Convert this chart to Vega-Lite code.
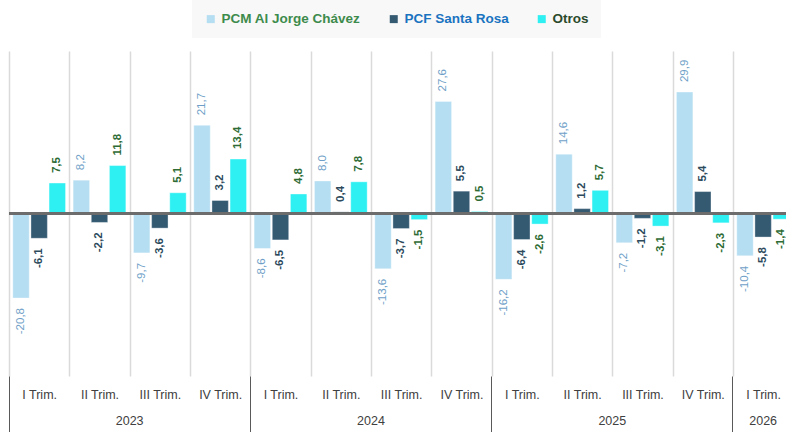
{
  "$schema": "https://vega.github.io/schema/vega-lite/v6.json",
  "autosize": {"type": "none"},
  "width": 777,
  "height": 325,
  "padding": {"left": 9, "top": 51, "right": 0, "bottom": 56},
  "background": "white",
  "config": {
    "locale": {"number": {"decimal": ",", "thousands": ".", "grouping": [3], "currency": ["", ""], "minus": "-"}},
    "view": {"stroke": null},
    "font": "Liberation Sans"
  },
  "data": {"values": [
    {"cat": "2023-I", "series": "PCM Al Jorge Chávez", "value": -20.8},
    {"cat": "2023-I", "series": "PCF Santa Rosa", "value": -6.1},
    {"cat": "2023-I", "series": "Otros", "value": 7.5},
    {"cat": "2023-II", "series": "PCM Al Jorge Chávez", "value": 8.2},
    {"cat": "2023-II", "series": "PCF Santa Rosa", "value": -2.2},
    {"cat": "2023-II", "series": "Otros", "value": 11.8},
    {"cat": "2023-III", "series": "PCM Al Jorge Chávez", "value": -9.7},
    {"cat": "2023-III", "series": "PCF Santa Rosa", "value": -3.6},
    {"cat": "2023-III", "series": "Otros", "value": 5.1},
    {"cat": "2023-IV", "series": "PCM Al Jorge Chávez", "value": 21.7},
    {"cat": "2023-IV", "series": "PCF Santa Rosa", "value": 3.2},
    {"cat": "2023-IV", "series": "Otros", "value": 13.4},
    {"cat": "2024-I", "series": "PCM Al Jorge Chávez", "value": -8.6},
    {"cat": "2024-I", "series": "PCF Santa Rosa", "value": -6.5},
    {"cat": "2024-I", "series": "Otros", "value": 4.8},
    {"cat": "2024-II", "series": "PCM Al Jorge Chávez", "value": 8.0},
    {"cat": "2024-II", "series": "PCF Santa Rosa", "value": 0.4},
    {"cat": "2024-II", "series": "Otros", "value": 7.8},
    {"cat": "2024-III", "series": "PCM Al Jorge Chávez", "value": -13.6},
    {"cat": "2024-III", "series": "PCF Santa Rosa", "value": -3.7},
    {"cat": "2024-III", "series": "Otros", "value": -1.5},
    {"cat": "2024-IV", "series": "PCM Al Jorge Chávez", "value": 27.6},
    {"cat": "2024-IV", "series": "PCF Santa Rosa", "value": 5.5},
    {"cat": "2024-IV", "series": "Otros", "value": 0.5},
    {"cat": "2025-I", "series": "PCM Al Jorge Chávez", "value": -16.2},
    {"cat": "2025-I", "series": "PCF Santa Rosa", "value": -6.4},
    {"cat": "2025-I", "series": "Otros", "value": -2.6},
    {"cat": "2025-II", "series": "PCM Al Jorge Chávez", "value": 14.6},
    {"cat": "2025-II", "series": "PCF Santa Rosa", "value": 1.2},
    {"cat": "2025-II", "series": "Otros", "value": 5.7},
    {"cat": "2025-III", "series": "PCM Al Jorge Chávez", "value": -7.2},
    {"cat": "2025-III", "series": "PCF Santa Rosa", "value": -1.2},
    {"cat": "2025-III", "series": "Otros", "value": -3.1},
    {"cat": "2025-IV", "series": "PCM Al Jorge Chávez", "value": 29.9},
    {"cat": "2025-IV", "series": "PCF Santa Rosa", "value": 5.4},
    {"cat": "2025-IV", "series": "Otros", "value": -2.3},
    {"cat": "2026-I", "series": "PCM Al Jorge Chávez", "value": -10.4},
    {"cat": "2026-I", "series": "PCF Santa Rosa", "value": -5.8},
    {"cat": "2026-I", "series": "Otros", "value": -1.4}
  ]},
  "resolve": {"axis": {"x": "independent"}, "scale": {"color": "independent"}},
  "layer": [
    {
      "mark": {"type": "bar", "stroke": "#ffffff", "strokeOpacity": 0.35, "strokeWidth": 1},
      "encoding": {
        "x": {"field": "cat", "type": "nominal",
          "scale": {"domain": ["2023-I","2023-II","2023-III","2023-IV","2024-I","2024-II","2024-III","2024-IV","2025-I","2025-II","2025-III","2025-IV","2026-I"], "range": [0, 784.3], "paddingInner": 0, "paddingOuter": 0},
          "axis": {"orient": "bottom", "title": null, "domain": false, "ticks": false, "tickBand": "extent", "grid": true, "gridColor": "#dadada", "gridWidth": 1.5, "labelExpr": "datum.value ? split(datum.value, '-')[1] + ' Trim.' : ''", "labelAngle": 0, "labelFont": "Liberation Sans", "labelFontSize": 12.5, "labelColor": "#404040", "labelPadding": 12}},
        "xOffset": {"field": "series", "type": "nominal", "scale": {"domain": ["PCM Al Jorge Chávez", "PCF Santa Rosa", "Otros"], "paddingInner": 0.094, "paddingOuter": 0.21}},
        "y": {"field": "value", "type": "quantitative", "scale": {"domain": [-40, 40], "nice": false},
          "axis": {"values": [-40, -20, 0, 20, 40], "labels": false, "ticks": false, "domain": false, "title": null, "grid": true, "gridColor": "#dadada", "gridWidth": 1.5}},
        "color": {"field": "series", "type": "nominal",
          "scale": {"domain": ["PCM Al Jorge Chávez", "PCF Santa Rosa", "Otros"], "range": ["#b5def2", "#345a72", "#2ef0f2"]},
          "legend": {"orient": "none", "legendX": 183, "legendY": -51, "direction": "horizontal", "title": null, "symbolType": "square", "symbolSize": 64, "symbolStrokeWidth": 0, "labelFont": "Liberation Sans", "labelFontWeight": "bold", "labelFontSize": 13.5, "labelColor": {"expr": "datum.label == 'Otros' ? '#2b4a2b' : datum.label == 'PCF Santa Rosa' ? '#1a73c0' : '#3d8b4c'"}, "columnPadding": 26, "padding": 12, "fillColor": "#f8f8f8", "labelOffset": 4}}
      }
    },
    {
      "mark": {"type": "rule", "color": "#6d6d6d", "strokeWidth": 2},
      "encoding": {"y": {"datum": 0, "type": "quantitative", "axis": null}}
    },
    {
      "transform": [{"filter": "datum.series == 'PCM Al Jorge Chávez' && datum.value >= 0"}],
      "mark": {"type": "text", "angle": 270, "align": "left", "baseline": "middle", "dx": 10, "font": "Liberation Sans", "fontSize": 11.5, "color": "#6f9fc8"},
      "encoding": {
        "x": {"field": "cat", "type": "nominal",
          "axis": {"orient": "bottom", "title": null, "domain": false, "grid": false, "values": ["2023-I","2024-I","2025-I","2026-I"], "bandPosition": 0, "ticks": true, "tickSize": 56, "tickColor": "#595959", "tickWidth": 1, "labelExpr": "datum.value ? split(datum.value, '-')[0] : ''", "labelOffset": {"condition": {"test": "datum.value == '2026-I'", "value": 0}, "value": 90.5}, "labelPadding": -18, "labelAngle": 0, "labelFont": "Liberation Sans", "labelFontSize": 12.5, "labelColor": "#404040"}},
        "xOffset": {"field": "series", "type": "nominal"},
        "y": {"field": "value", "type": "quantitative", "axis": null},
        "text": {"field": "value", "type": "quantitative", "format": ".1f"}
      }
    },
    {
      "transform": [{"filter": "datum.series == 'PCM Al Jorge Chávez' && datum.value < 0"}],
      "mark": {"type": "text", "angle": 270, "align": "right", "baseline": "middle", "dx": -10, "font": "Liberation Sans", "fontSize": 11.5, "color": "#6f9fc8"},
      "encoding": {
        "x": {"field": "cat", "type": "nominal", "axis": null},
        "xOffset": {"field": "series", "type": "nominal"},
        "y": {"field": "value", "type": "quantitative", "axis": null},
        "text": {"field": "value", "type": "quantitative", "format": ".1f"}
      }
    },
    {
      "transform": [{"filter": "datum.series != 'PCM Al Jorge Chávez' && datum.value >= 0"}],
      "mark": {"type": "text", "angle": 270, "align": "left", "baseline": "middle", "dx": 10, "font": "Liberation Sans", "fontSize": 11.5, "fontWeight": "bold"},
      "encoding": {
        "x": {"field": "cat", "type": "nominal", "axis": null},
        "xOffset": {"field": "series", "type": "nominal"},
        "y": {"field": "value", "type": "quantitative", "axis": null},
        "text": {"field": "value", "type": "quantitative", "format": ".1f"},
        "color": {"field": "series", "type": "nominal", "scale": {"domain": ["PCF Santa Rosa", "Otros"], "range": ["#2c4a5c", "#2e6b35"]}, "legend": null}
      }
    },
    {
      "transform": [{"filter": "datum.series != 'PCM Al Jorge Chávez' && datum.value < 0"}],
      "mark": {"type": "text", "angle": 270, "align": "right", "baseline": "middle", "dx": -10, "font": "Liberation Sans", "fontSize": 11.5, "fontWeight": "bold"},
      "encoding": {
        "x": {"field": "cat", "type": "nominal", "axis": null},
        "xOffset": {"field": "series", "type": "nominal"},
        "y": {"field": "value", "type": "quantitative", "axis": null},
        "text": {"field": "value", "type": "quantitative", "format": ".1f"},
        "color": {"field": "series", "type": "nominal", "scale": {"domain": ["PCF Santa Rosa", "Otros"], "range": ["#2c4a5c", "#2e6b35"]}, "legend": null}
      }
    }
  ]
}
